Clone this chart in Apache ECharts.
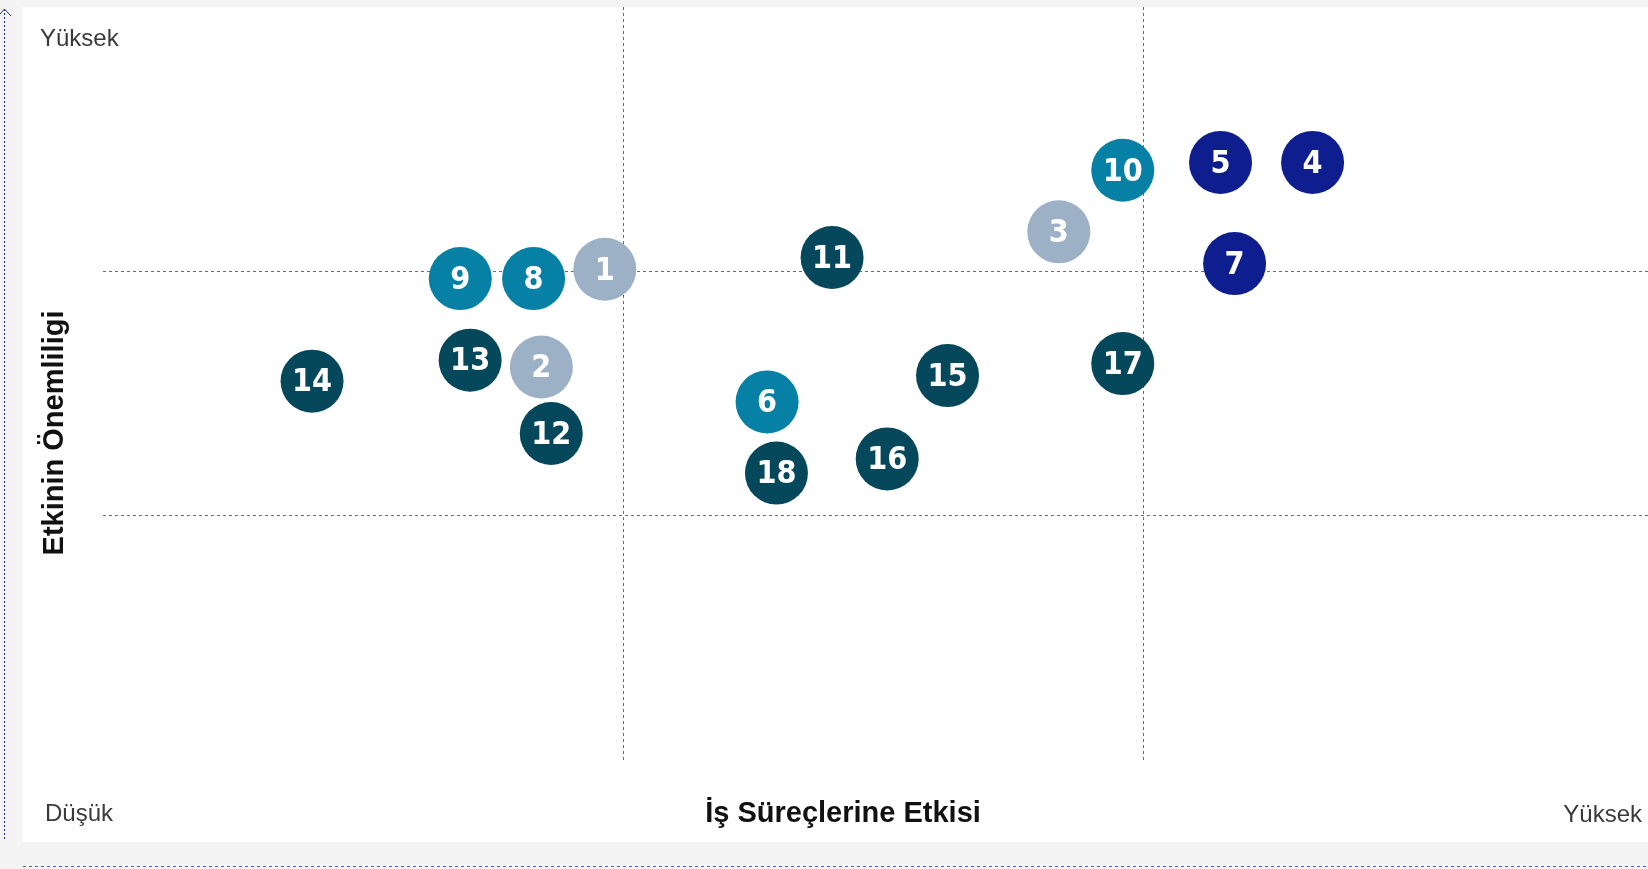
<!DOCTYPE html>
<html>
<head>
<meta charset="utf-8">
<script src="https://cdn.jsdelivr.net/npm/echarts@6/dist/echarts.min.js"></script>
<style>
  html, body { margin: 0; padding: 0; background: #f4f4f4; }
  #canvas { width: 1648px; height: 869px; }
</style>
</head>
<body>
<div id="canvas"></div>
<script>
// risk numbers and their place on the matrix (x: iş süreçlerine etkisi, y: önemi)
const ids = ["1", "2", "3", "4", "5", "6", "7", "8", "9", "10", "11", "12", "13", "14", "15", "16", "17", "18"];
const impact = [0.965, 0.843, 1.838, 2.326, 2.149, 1.277, 2.176, 0.828, 0.687, 1.961, 1.402, 0.862, 0.706, 0.402, 1.624, 1.508, 1.961, 1.295];
const importance = [2.008, 1.608, 2.161, 2.445, 2.445, 1.465, 2.031, 1.970, 1.970, 2.413, 2.056, 1.336, 1.636, 1.550, 1.573, 1.232, 1.622, 1.174];
const group = ["gri", "gri", "gri", "lacivert", "lacivert", "mavi", "lacivert", "mavi", "mavi", "mavi",
  "koyu", "koyu", "koyu", "koyu", "koyu", "koyu", "koyu", "koyu"];
const groupColors = { gri: "#9cb0c6", lacivert: "#0e1e8e", mavi: "#0780a5", koyu: "#05475b" };
const splitX = [1, 2];
const splitY = [1, 2];

const myChart = window.echarts.init(document.querySelector("#canvas"));

const series = Object.keys(groupColors).map(function (g) {
  const data = [];
  ids.forEach(function (id, i) {
    if (group[i] === g) data.push([impact[i], importance[i], id]);
  });
  return {
    type: "scatter",
    name: g,
    symbolSize: 63,
    z: 5,
    itemStyle: { color: groupColors[g], opacity: 1 },
    label: {
      show: true,
      position: "inside",
      offset: [0, 2],
      formatter: function (p) { return p.data[2]; },
      color: "#fff",
      fontFamily: "'Liberation Sans Narrow', 'DejaVu Sans Condensed', sans-serif",
      fontWeight: "bold",
      fontSize: 32
    },
    data: data
  };
});

// quadrant lines
series.push({
  type: "scatter",
  data: [],
  z: 1,
  markLine: {
    silent: true,
    symbol: "none",
    label: { show: false },
    lineStyle: { color: "#6b6b6b", width: 1, type: [3, 3] },
    data: splitX.map(v => ({ xAxis: v })).concat(splitY.map(v => ({ yAxis: v })))
  }
});

myChart.setOption({
  animation: false,
  backgroundColor: "#f4f4f4",
  grid: { left: 103, right: 0, top: 7, bottom: 109 },
  xAxis: { type: "value", min: 0, max: 2.971, show: false },
  yAxis: { type: "value", min: 0, max: 3.081, show: false },
  graphic: [
    { type: "rect", z: -10, shape: { x: 23, y: 7, width: 1625, height: 835 }, style: { fill: "#fff" } },
    { type: "line", shape: { x1: 4.5, y1: 9, x2: 4.5, y2: 840 }, style: { stroke: "#1f2f96", lineWidth: 1, lineDash: [2, 2] } },
    { type: "polyline", shape: { points: [[0, 14], [4.5, 9], [11, 16]] }, style: { stroke: "#1f2f96", lineWidth: 1, fill: null } },
    { type: "line", shape: { x1: 23, y1: 866.5, x2: 1648, y2: 866.5 }, style: { stroke: "#4f5dc2", lineWidth: 1, lineDash: [3, 3] } },
    { type: "text", left: 40, top: 27, style: { text: "Yüksek", font: "24px 'Liberation Sans', sans-serif", fill: "#3a3a3a" } },
    { type: "text", left: 45, top: 802, style: { text: "Düşük", font: "24px 'Liberation Sans', sans-serif", fill: "#3a3a3a" } },
    { type: "text", right: 6, top: 803, style: { text: "Yüksek", font: "24px 'Liberation Sans', sans-serif", fill: "#3a3a3a" } },
    {
      type: "text", x: 843, y: 814,
      style: { text: "İş Süreçlerine Etkisi", font: "bold 29px 'Liberation Sans', sans-serif", fill: "#111", align: "center", verticalAlign: "middle" }
    },
    {
      type: "text", x: 55, y: 433, rotation: Math.PI / 2,
      style: { text: "Etkinin Önemliligi", font: "bold 29px 'Liberation Sans', sans-serif", fill: "#111", align: "center", verticalAlign: "middle" }
    }
  ],
  series: series
});
</script>
</body>
</html>
